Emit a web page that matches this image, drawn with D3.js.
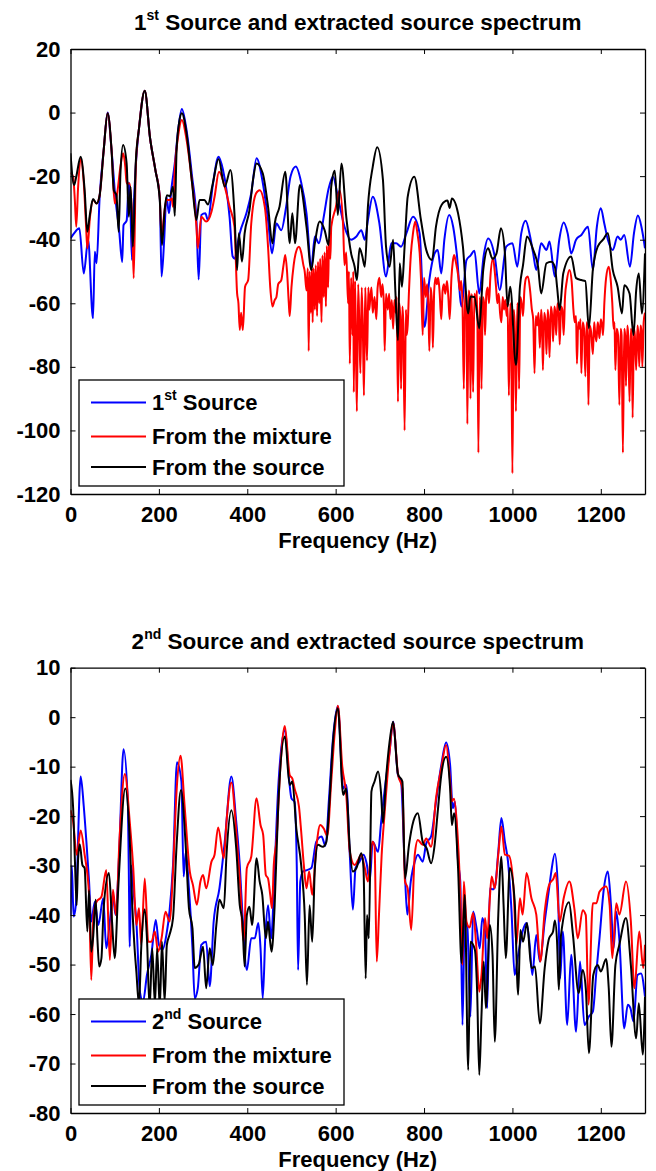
<!DOCTYPE html>
<html>
<head>
<meta charset="utf-8">
<script src="https://cdn.jsdelivr.net/npm/d3@7/dist/d3.min.js"></script>
<style>
  body { margin: 0; background: #fff; }
  svg { display: block; font-family: "Liberation Sans", Arial, Helvetica, sans-serif; font-weight: bold; }
</style>
</head>
<body>
<svg id="chart" width="656" height="1171"></svg>
<script>
// ---- data: [frequency (Hz), level (dB)] ----
const xTicks = [0, 200, 400, 600, 800, 1000, 1200]
const yTicksTop = [20, 0, -20, -40, -60, -80, -100, -120]
const yTicksBottom = [10, 0, -10, -20, -30, -40, -50, -60, -70, -80]
const seriesLabels = ['Source', 'From the mixture', 'From the source']

// panel 1: 1st source
const src1 = [[0,-39.6],[8,-38],[20,-36.4],[30,-50.6],[40,-40],[49,-62.6],[51,-64.7],[55,-43.8],[59,-47.4],[66,-26.5],[75,-12],[84,0],[93,-12],[102,-27.5],[110,-37],[117,-47],[120,-35.4],[127,-34],[132,-22],[135,-26.5],[139,-46.4],[143,-30],[148,-16],[155,-5],[168,6.9],[180,-8],[192,-18],[202,-26.5],[206,-51.6],[212,-40],[217,-26.5],[223,-31.7],[228,-24.4],[236,-16],[244,-5],[252,1.1],[262,-5],[275,-20],[285,-33.8],[290,-52.5],[296,-32.2],[305,-31.7],[311,-33.8],[322,-22.8],[335,-13.9],[345,-18],[353,-24.4],[360,-33],[367,-45.3],[372,-46],[377,-42],[383,-38],[398,-31.7],[409,-25.4],[421,-14.4],[435,-22],[447,-33.8],[456,-44.3],[466,-34.9],[477,-37],[488,-29.6],[498,-20],[510,-17],[522,-22],[534,-31.7],[545,-48.5],[553,-39],[562,-41.1],[573,-32.8],[584,-24],[594,-20.2],[605,-26.5],[620,-35.9],[635,-40],[647,-39],[658,-37],[666,-40],[673,-33.8],[684,-26.5],[699,-34.9],[714,-51.6],[726,-41.1],[737,-41.1],[748,-42.2],[760,-38],[775,-32.8],[790,-38],[801,-67.4],[812,-52.6],[824,-44.3],[831,-43.2],[839,-50.6],[846,-40],[857,-32.2],[866,-36],[874,-44.3],[885,-61],[896,-46.4],[905,-45],[914,-43.5],[925,-56.9],[935,-45],[945,-39.6],[960,-45.3],[971,-55.8],[986,-42.2],[1000,-41.1],[1011,-48.5],[1020,-38],[1030,-34],[1040,-39],[1047,-44.3],[1054,-49.5],[1065,-41.1],[1077,-43.2],[1084,-40.6],[1096,-51.6],[1106,-40],[1116,-34.6],[1125,-38],[1133,-44.3],[1144,-40],[1156,-38.5],[1171,-35.9],[1182,-49.5],[1191,-36],[1200,-30.1],[1208,-35],[1216,-40],[1227,-43.2],[1238,-39],[1245,-40],[1253,-38.5],[1266,-48.5],[1275,-38],[1284,-32.4],[1292,-36],[1300,-42.7]]

const mix1 = [[0,-18.9],[6,-20.2],[10,-28],[13,-35.9],[17,-24],[23,-14.5],[30,-22],[35,-35],[38,-42.7],[44,-33],[51,-27.5],[59,-28.6],[66,-26],[75,-12],[84,-0.2],[93,-12],[100,-28.6],[106,-25],[113,-17],[119,-12.8],[124,-17],[127,-22.3],[134,-22.3],[140,-35.9],[143,-52.1],[148,-16],[155,-5],[168,6.9],[180,-8],[192,-18],[202,-26.5],[206,-39],[212,-32],[217,-27.5],[225,-27.5],[229,-27],[232,-29.6],[236,-18],[244,-7],[252,-2.3],[262,-8],[275,-22],[285,-35.9],[288,-42.7],[296,-32.8],[307,-34.3],[319,-31.2],[326,-26.5],[336,-18.6],[349,-23.3],[360,-29.6],[371,-35.9],[377,-56.9],[380,-60],[383,-68.4],[386,-63],[390,-68.4],[395,-54.8],[402,-52.7],[409,-34.9],[420,-25.4],[428,-24.4],[440,-30],[447,-42.2],[452,-55],[457,-61],[462,-59],[466,-58],[470,-54],[477,-52.7],[482,-48],[486,-44.8],[490,-50],[494,-60],[496,-64],[500,-55],[505,-48],[510,-44],[517,-42.2],[522,-44],[527,-48],[530,-50],[534,-56],[537,-49],[539,-75],[541,-50],[544,-63],[546,-49],[548,-66],[550,-49],[553,-62],[555,-48],[558,-64],[560,-47],[563,-60],[565,-46],[568,-66],[570,-45],[573,-58],[575,-44],[578,-61],[580,-42],[583,-55],[585,-40],[588,-46],[590,-36],[600,-30],[609,-24.4],[617,-36],[620,-48],[624,-44],[628,-60],[630,-50],[632,-79],[635,-52],[638,-70],[640,-50],[641,-88],[644,-53],[646,-75],[648,-94],[651,-54],[654,-70],[656,-82],[659,-55],[662,-72],[664,-89],[667,-55],[669,-66],[671,-78],[674,-55],[676,-62],[678,-59],[681,-55],[684,-63],[688,-58],[692,-65],[695,-55],[699,-52],[703,-58],[706,-54],[709,-60],[711,-75],[714,-57],[718,-62],[721,-57],[724,-65],[727,-59],[730,-68],[733,-59],[736,-63],[738,-58],[741,-91],[744,-60],[746,-64],[748,-87],[751,-61],[753,-66],[756,-100],[759,-62],[761,-70],[763,-67],[766,-56],[770,-45],[775,-38],[780,-34.3],[785,-38],[790,-44],[793,-52],[797,-70],[800,-52],[804,-58],[807,-54],[810,-62],[812,-75],[815,-55],[818,-60],[820,-74],[823,-56],[826,-52],[829,-54],[832,-52],[835,-56],[839,-65],[842,-56],[845,-54],[848,-57],[852,-53],[855,-58],[858,-65],[862,-52],[865,-47],[868,-44.8],[872,-47],[877,-51],[881,-56],[884,-53],[887,-60],[890,-87],[893,-56],[896,-58],[898,-98],[901,-56],[903,-58],[905,-90],[908,-57],[911,-88],[914,-57],[917,-60],[920,-56],[923,-107],[926,-58],[928,-62],[930,-87],[933,-58],[936,-60],[938,-70],[941,-57],[944,-55],[947,-60],[950,-52],[956,-45.9],[960,-50],[963,-55],[966,-60],[969,-57],[972,-63],[975,-66],[978,-58],[981,-62],[984,-59],[987,-64],[989,-60],[992,-89],[995,-60],[997,-66],[1000,-113.5],[1003,-62],[1005,-66],[1008,-94],[1011,-60],[1013,-62],[1015,-87],[1018,-58],[1021,-60],[1024,-64],[1027,-56],[1031,-52],[1035,-51.6],[1040,-56],[1044,-62],[1047,-65],[1050,-82],[1053,-64],[1056,-67],[1059,-63],[1062,-74],[1065,-62],[1067,-66],[1069,-81],[1072,-63],[1075,-66],[1077,-76],[1080,-62],[1082,-66],[1084,-77],[1087,-61],[1090,-64],[1092,-72],[1095,-61],[1097,-63],[1099,-70],[1102,-60],[1105,-63],[1107,-73],[1110,-61],[1113,-62],[1116,-70],[1119,-58],[1123,-53],[1129,-49.5],[1134,-53],[1138,-62],[1141,-66],[1144,-64],[1146,-79],[1149,-66],[1152,-68],[1154,-65],[1156,-82],[1159,-66],[1162,-68],[1165,-83],[1168,-66],[1170,-68],[1172,-92],[1175,-67],[1178,-69],[1182,-76],[1185,-66],[1187,-69],[1190,-72],[1193,-66],[1195,-68],[1197,-71],[1200,-65],[1203,-67],[1205,-70],[1208,-60],[1212,-52],[1218,-48.5],[1222,-52],[1226,-60],[1229,-68],[1231,-66],[1233,-81],[1236,-68],[1239,-70],[1242,-92],[1245,-68],[1247,-70],[1250,-107],[1253,-68],[1255,-70],[1257,-86],[1260,-67],[1262,-70],[1265,-91],[1268,-68],[1270,-70],[1272,-96],[1275,-68],[1277,-70],[1280,-81],[1283,-67],[1285,-70],[1287,-80],[1290,-67],[1292,-69],[1294,-80],[1297,-66],[1300,-63]]

const ext1 = [[0,-12.8],[8,-22.8],[13,-20.2],[23,-13.9],[32,-24.4],[38,-37.5],[44,-32],[51,-27.2],[59,-28.6],[66,-26],[75,-12],[84,-0.2],[93,-12],[98,-24.4],[104,-26],[109,-37.5],[113,-19.1],[119,-10.2],[127,-16],[132,-32.8],[136,-23.3],[141,-42.2],[148,-14.9],[155,-5],[168,6.9],[180,-8],[192,-18],[202,-27.5],[207,-41.7],[213,-30.7],[218,-26],[225,-26.3],[232,-23.3],[236,-32.5],[240,-12],[246,-3],[252,-0.2],[262,-6],[275,-22],[285,-33.8],[292,-27.5],[303,-27.5],[311,-28.9],[322,-22.3],[335,-14.6],[349,-23.3],[362,-18.1],[371,-31.7],[377,-49.5],[381,-38],[388,-46.9],[394,-38],[405,-30.7],[413,-21.2],[421,-16],[435,-19.1],[447,-29.6],[457,-41.1],[462,-35],[473,-29.6],[486,-18.6],[496,-41.1],[502,-31.7],[508,-41.1],[519,-22.8],[534,-35.9],[545,-49.5],[553,-41.1],[564,-34.3],[575,-37],[584,-41.7],[590,-23.3],[598,-18.3],[605,-32.2],[613,-16],[624,-32.8],[635,-44.3],[643,-48.5],[648,-52.7],[654,-42.7],[660,-45],[666,-48.5],[673,-29.6],[684,-17],[694,-10.9],[707,-21.2],[714,-42.2],[722,-48.5],[730,-40],[735,-55.8],[741,-71.6],[745,-47.4],[750,-54.8],[756,-42.2],[763,-26.5],[778,-20.2],[793,-33.8],[805,-43.2],[818,-46.4],[827,-35.9],[840,-29],[853,-27.7],[858,-30],[863,-27],[877,-31.7],[888,-42.2],[900,-63.2],[905,-57.9],[914,-58],[925,-67.9],[934,-49.5],[945,-42.7],[955,-46],[964,-44.3],[974,-36.4],[983,-44.3],[989,-61],[995,-54.8],[1008,-79.4],[1017,-54.8],[1024,-48],[1033,-39],[1047,-43.2],[1058,-48.5],[1065,-56.9],[1077,-47.4],[1088,-46.9],[1096,-48.5],[1101,-54.8],[1107,-62.1],[1115,-50.6],[1133,-45.3],[1144,-52.1],[1156,-52.7],[1165,-53],[1173,-67.9],[1182,-49.5],[1193,-42.2],[1205,-40],[1216,-38],[1227,-49.5],[1238,-54.8],[1248,-63.2],[1253,-54.3],[1265,-56.9],[1274,-70],[1280,-56],[1286,-50.6],[1293,-63.2],[1300,-44.3]]

// panel 2: 2nd source
const src2 = [[0,-40],[3,-30],[7,-40.3],[12,-38],[23,-12],[30,-18],[36,-25.2],[42,-33.2],[47,-41.3],[55,-37.3],[63,-42],[74,-36.6],[81,-46.7],[89,-41.3],[96,-35.9],[102,-40],[110,-27.8],[120,-6.5],[130,-17.7],[133,-40],[134,-46.4],[138,-30],[142,-34.6],[149,-41.3],[157,-55.5],[164,-57.5],[173,-52.1],[183,-48],[193,-41],[200,-46],[208,-47],[217,-44],[224,-39.3],[232,-29.9],[241,-9.1],[251,-13],[256,-32.2],[261,-27.2],[268,-34.6],[276,-46.7],[281,-56.8],[288,-54.8],[296,-46],[307,-45.4],[315,-54.4],[324,-41.3],[337,-34.6],[349,-25.2],[364,-12],[375,-21.1],[383,-29.9],[390,-41.3],[399,-51.1],[409,-44.7],[417,-44.7],[425,-41.6],[430,-46.7],[435,-56.8],[441,-44],[447,-38],[454,-44.7],[462,-30.5],[470,-14.4],[485,-2.6],[495,-13],[500,-16.4],[507,-17.1],[512,-30],[515,-51.1],[520,-33.2],[526,-31.2],[535,-30.9],[545,-30.5],[556,-25.2],[568,-24.1],[577,-26],[585,-16.4],[594,-4.3],[605,2.2],[617,-14.4],[624,-13.7],[632,-27.8],[639,-38.9],[645,-30.5],[654,-29.2],[663,-27.8],[670,-29.5],[677,-33.2],[684,-25.2],[696,-27.2],[703,-21.1],[714,-12.4],[722,-7],[730,-0.9],[741,-11.7],[748,-13],[756,-29.9],[762,-39.9],[770,-33.2],[779,-29.2],[786,-27.8],[797,-29.2],[805,-25.5],[816,-24.1],[827,-17.1],[839,-9.7],[850,-5.1],[859,-9.7],[865,-18.4],[870,-17.1],[877,-29.2],[882,-33.2],[887,-62.2],[892,-41.3],[898,-42.5],[905,-60.5],[911,-39.3],[919,-42.7],[926,-46.7],[932,-40.6],[938,-43.3],[943,-58.8],[949,-34.6],[956,-34.8],[961,-34],[968,-27.2],[975,-20.4],[983,-25.2],[990,-29.2],[998,-39.3],[1005,-52.1],[1013,-48],[1023,-43.3],[1032,-41.6],[1039,-46],[1045,-52.1],[1054,-44],[1062,-49.4],[1073,-41.3],[1083,-34.6],[1088,-31.2],[1096,-27.6],[1103,-34.6],[1108,-52.8],[1114,-43.3],[1124,-62.2],[1133,-48],[1144,-63.6],[1153,-49.4],[1163,-62.2],[1173,-60.5],[1182,-59.5],[1190,-51.4],[1197,-44.7],[1207,-34.6],[1216,-31.2],[1223,-38],[1229,-46.7],[1235,-39.3],[1242,-45],[1253,-62.9],[1261,-58.1],[1267,-58.8],[1274,-61.5],[1283,-52.1],[1291,-51.8],[1300,-56.5]]

const mix2 = [[0,-18.8],[6,-21.1],[14,-27.8],[23,-22.9],[32,-27.8],[42,-35.9],[47,-53.1],[52,-40],[59,-37.3],[70,-36.3],[81,-30.9],[89,-49.1],[96,-34.9],[103,-40],[111,-24.5],[123,-11.5],[134,-21.1],[142,-30.5],[149,-42],[155,-38.6],[160,-46],[168,-32.6],[176,-45.4],[183,-45.4],[191,-43.3],[198,-47.4],[206,-44.7],[215,-39.3],[224,-41.3],[232,-31.2],[240,-15],[249,-7.8],[258,-17.7],[270,-31.2],[277,-33.9],[286,-37.9],[294,-33.2],[300,-31.9],[307,-34.6],[319,-29.2],[326,-27.8],[334,-22.3],[347,-28.5],[353,-21.1],[364,-13.2],[375,-23.1],[383,-32.6],[392,-45.4],[399,-30.5],[409,-28.2],[421,-16.4],[430,-21.8],[436,-23.8],[442,-31.9],[447,-32.6],[452,-35.9],[456,-38.6],[460,-29.9],[466,-25],[475,-10],[485,-1.8],[496,-11.7],[502,-12.4],[507,-14.4],[517,-18.1],[522,-23.1],[528,-29.9],[534,-34.6],[540,-31.2],[547,-35.9],[556,-26.5],[565,-21.8],[573,-22.5],[581,-24],[590,-13],[598,-3],[605,2.3],[615,-10],[624,-15.7],[632,-27.2],[643,-29.9],[650,-29],[658,-27.8],[666,-30.5],[673,-33.2],[683,-25.2],[688,-26],[693,-49.4],[698,-40],[704,-28],[711,-19.1],[722,-7],[730,-1.1],[741,-11.5],[751,-14.4],[757,-33.2],[763,-34.6],[771,-43],[779,-27.8],[786,-24.8],[797,-25.8],[805,-24.5],[816,-26.2],[827,-16.4],[839,-10.3],[850,-5.6],[859,-13],[863,-17],[868,-16.5],[875,-22.5],[881,-33.2],[887,-50.1],[890,-33.2],[896,-41.3],[903,-42.5],[911,-39.6],[918,-46],[925,-55.5],[930,-52.1],[938,-40.6],[943,-44.7],[948,-38],[953,-32.2],[960,-34.6],[968,-27.8],[975,-22.1],[983,-27.8],[992,-28],[1002,-33.9],[1009,-46],[1017,-36.6],[1023,-39.9],[1032,-31.5],[1043,-36.6],[1054,-39.9],[1063,-49.4],[1073,-39.3],[1083,-33.9],[1093,-32.6],[1098,-31.5],[1107,-41.3],[1116,-36.6],[1129,-33.2],[1140,-38.6],[1148,-44.7],[1159,-39],[1166,-40],[1172,-58.1],[1182,-37.6],[1190,-37.6],[1197,-35.3],[1212,-34.2],[1220,-38],[1226,-48.7],[1235,-37.6],[1242,-39.9],[1257,-33.2],[1268,-41.3],[1276,-54.8],[1287,-43.3],[1296,-50.7],[1300,-46]]

const ext2 = [[0,-12.7],[6,-18.4],[10,-29],[14,-38],[17,-29],[21,-25.7],[27,-29.9],[32,-30.5],[38,-43.3],[42,-35],[47,-47.4],[51,-44.7],[57,-36.9],[61,-45],[65,-50.4],[70,-48.7],[75,-38.6],[87,-31.5],[94,-41.3],[100,-48.7],[108,-34.6],[124,-14.4],[134,-24.5],[140,-38.6],[145,-46.7],[149,-51.4],[155,-58.1],[160,-46.7],[168,-38.8],[173,-44.7],[179,-58.8],[185,-46.7],[191,-58.1],[196,-46.7],[202,-58.8],[207,-45.4],[213,-57.5],[218,-46],[224,-44],[232,-40.6],[240,-26],[250,-14.7],[261,-26.5],[268,-38.6],[276,-42.7],[281,-50.7],[290,-50],[300,-46.4],[307,-54.8],[315,-46.7],[322,-50.1],[330,-42],[337,-36.9],[347,-38.6],[353,-27.8],[364,-18.8],[375,-26.5],[383,-38],[389,-41.3],[394,-50.4],[399,-40],[405,-38.3],[411,-42],[421,-28.5],[428,-33.2],[434,-35.9],[442,-44.7],[447,-41.3],[451,-44.7],[455,-47.4],[462,-38],[470,-18],[485,-3.9],[496,-13.7],[502,-13],[511,-22.5],[522,-29.9],[530,-40],[535,-54.1],[541,-38],[547,-45.4],[553,-30.5],[560,-25.8],[571,-26.2],[579,-25.2],[586,-17.1],[594,-5],[605,1.8],[617,-15.7],[624,-14.4],[632,-26.5],[639,-31.2],[647,-30.5],[658,-27.5],[663,-30.5],[668,-52.8],[671,-40],[675,-44.7],[681,-15],[688,-13],[696,-11],[703,-15.7],[707,-21.4],[714,-12.4],[722,-5],[730,-0.9],[741,-11.5],[751,-13],[757,-32.6],[766,-25.8],[776,-21],[786,-19.4],[797,-25.2],[806,-26.5],[816,-29.5],[824,-25.8],[831,-19.1],[839,-11.7],[850,-8],[859,-14.4],[863,-21.8],[868,-19.4],[877,-30.5],[885,-49.7],[892,-35.9],[900,-71.3],[905,-45.4],[915,-47],[920,-55],[925,-72.3],[930,-60.2],[935,-49.4],[940,-58.8],[949,-42],[955,-48],[960,-65.6],[968,-40],[975,-28.2],[980,-38],[985,-48.7],[994,-30.5],[1005,-37],[1013,-56.1],[1018,-43],[1024,-45.4],[1033,-41.6],[1043,-50.7],[1051,-50.4],[1062,-61.9],[1073,-50.7],[1083,-44.7],[1092,-43.3],[1096,-41.1],[1101,-45.4],[1105,-55.1],[1110,-44],[1128,-37.4],[1137,-44],[1150,-55.8],[1159,-51.1],[1166,-54.8],[1173,-67.9],[1183,-52.1],[1193,-50.1],[1200,-51.4],[1212,-48.9],[1218,-54.8],[1224,-66.6],[1233,-50.1],[1242,-46],[1257,-40.6],[1268,-50.1],[1280,-64.9],[1286,-57.8],[1295,-68.2],[1300,-56.5]]

// ---- drawing ----
const svg = d3.select('#chart')
const left = 70.5
const right = 645
const colors = ['#0000ff', '#ff0000', '#000000']

function supText (sel, main, sup, rest, supSize) {
  sel.append('tspan').text(main)
  sel.append('tspan').attr('dy', -10).style('font-size', supSize + 'px').text(sup)
  sel.append('tspan').attr('dy', 10).text(rest)
}

function drawPanel (id, top, bottom, yDomain, yTicks, ordinal, series) {
  const g = svg.append('g')
  const x = d3.scaleLinear().domain([0, 1300]).range([left, right])
  const y = d3.scaleLinear().domain(yDomain).range([bottom, top])

  g.append('clipPath').attr('id', 'clip' + id)
    .append('rect')
    .attr('x', left).attr('y', top)
    .attr('width', right - left).attr('height', bottom - top)

  const line = d3.line()
    .x(d => x(d[0]))
    .y(d => y(d[1]))
    .curve(d3.curveMonotoneX)

  const lines = g.append('g').attr('clip-path', 'url(#clip' + id + ')')
  series.forEach((s, i) => {
    lines.append('path')
      .datum(s)
      .attr('d', line)
      .attr('fill', 'none')
      .attr('stroke', colors[i])
      .attr('stroke-width', 2)
      .attr('stroke-linejoin', 'round')
  })

  // box axes, ticks pointing inward
  const fmt = d => String(d)
  const axB = g.append('g').attr('transform', `translate(0,${bottom})`)
    .call(d3.axisBottom(x).tickValues(xTicks).tickFormat(fmt).tickSize(-5).tickSizeOuter(0).tickPadding(12))
  const axL = g.append('g').attr('transform', `translate(${left},0)`)
    .call(d3.axisLeft(y).tickValues(yTicks).tickFormat(fmt).tickSize(-5).tickSizeOuter(0).tickPadding(10))
  const axT = g.append('g').attr('transform', `translate(0,${top})`)
    .call(d3.axisTop(x).tickValues(xTicks).tickFormat('').tickSize(-5).tickSizeOuter(0))
  const axR = g.append('g').attr('transform', `translate(${right},0)`)
    .call(d3.axisRight(y).tickValues(yTicks).tickFormat('').tickSize(-5).tickSizeOuter(0))
  ;[axB, axL, axT, axR].forEach(a => {
    a.select('.domain').attr('stroke', '#000').attr('stroke-width', 1.3)
    a.selectAll('.tick line').attr('stroke', '#000').attr('stroke-width', 1)
    a.selectAll('text')
      .attr('fill', '#000')
      .style('font-family', '"Liberation Sans", Arial, sans-serif')
      .style('font-weight', 'bold')
      .style('font-size', '22px')
  })

  // title and x label
  const cx = (left + right) / 2
  const title = g.append('text')
    .attr('x', cx).attr('y', top - 19)
    .attr('text-anchor', 'middle')
    .style('font-size', '22.5px')
  supText(title, ordinal[0], ordinal[1], ' Source and extracted source spectrum', 14)

  g.append('text')
    .attr('x', cx).attr('y', bottom + 54)
    .attr('text-anchor', 'middle')
    .style('font-size', '22px')
    .text('Frequency (Hz)')

  // legend
  const lg = g.append('g').attr('transform', `translate(79,${bottom - 114})`)
  lg.append('rect')
    .attr('width', 265).attr('height', 106)
    .attr('fill', '#fff').attr('stroke', '#000').attr('stroke-width', 1.3)
  const rows = [22.5, 56.5, 87]
  seriesLabels.forEach((lab, i) => {
    lg.append('line')
      .attr('x1', 12).attr('x2', 67)
      .attr('y1', rows[i]).attr('y2', rows[i])
      .attr('stroke', colors[i]).attr('stroke-width', 2)
    const t = lg.append('text')
      .attr('x', 73).attr('y', rows[i]).attr('dy', '0.36em')
      .style('font-size', '22px')
    if (i === 0) supText(t, ordinal[0], ordinal[1], ' ' + lab, 14)
    else t.text(lab)
  })
}

drawPanel(1, 49, 494, [-120, 20], yTicksTop, ['1', 'st'], [src1, mix1, ext1])
drawPanel(2, 667.7, 1113, [-80, 10], yTicksBottom, ['2', 'nd'], [src2, mix2, ext2])
</script>
</body>
</html>
